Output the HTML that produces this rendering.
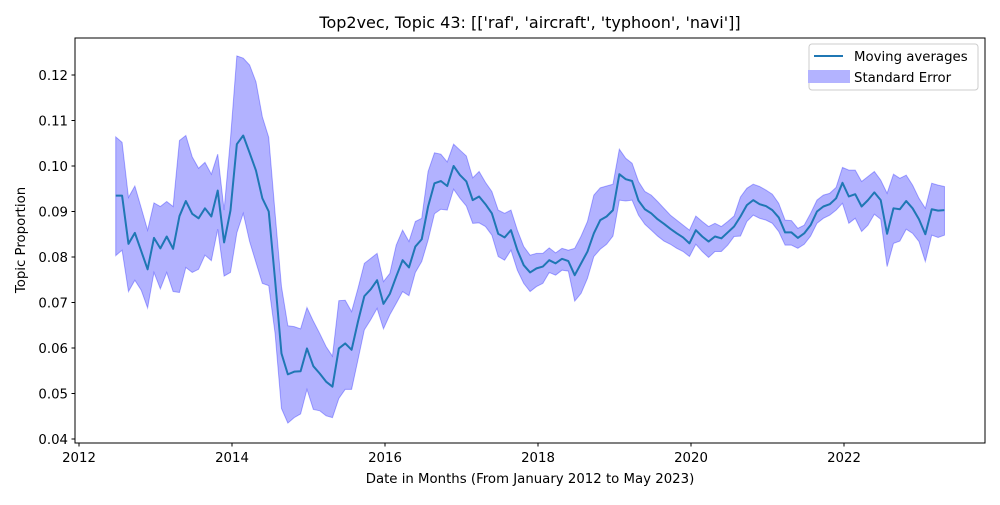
<!DOCTYPE html>
<html><head><meta charset="utf-8"><style>
body{margin:0;background:#fff}
svg text{font-family:"DejaVu Sans","Liberation Sans",sans-serif;fill:#000}
</style></head><body>
<svg id="chart" width="1000" height="500" xmlns="http://www.w3.org/2000/svg">
<rect width="1000" height="500" fill="#fff"/>
<text x="530" y="28" font-size="16" text-anchor="middle">Top2vec, Topic 43: [['raf', 'aircraft', 'typhoon', 'navi']]</text>
<g id="plot"></g>
<rect x="75" y="38" width="910" height="405" fill="none" stroke="#000" stroke-width="1"/>
<g id="axes"></g>
<text x="530" y="483" font-size="13.3" text-anchor="middle">Date in Months (From January 2012 to May 2023)</text>
<text transform="translate(25,240) rotate(-90)" font-size="13.3" text-anchor="middle">Topic Proportion</text>
<g>
<rect x="809" y="44" width="169" height="46" rx="3" fill="#fff" fill-opacity="0.8" stroke="#ccc"/>
<line x1="814" y1="56" x2="843" y2="56" stroke="#1f77b4" stroke-width="2"/>
<text x="854" y="61" font-size="13.3">Moving averages</text>
<rect x="808" y="70" width="42" height="13" fill="#b3b3ff"/>
<text x="854" y="82" font-size="13.3">Standard Error</text>
</g>
</svg>
<script>
const startYear = 2012.48;
const meanValues = [0.0935,0.0935,0.0829,0.0853,0.0813,0.0773,0.0842,0.0819,0.0845,0.0818,0.0890,0.0923,0.0895,0.0885,0.0907,0.0889,0.0946,0.0832,0.0902,0.1048,0.1067,0.1029,0.0990,0.0929,0.0900,0.0749,0.0588,0.0542,0.0548,0.0549,0.0599,0.0560,0.0544,0.0526,0.0515,0.0599,0.0610,0.0596,0.0658,0.0714,0.0729,0.0749,0.0697,0.0719,0.0757,0.0793,0.0777,0.0823,0.0839,0.0911,0.0962,0.0967,0.0956,0.1000,0.0980,0.0966,0.0925,0.0933,0.0916,0.0896,0.0851,0.0843,0.0859,0.0815,0.0782,0.0766,0.0775,0.0779,0.0793,0.0786,0.0796,0.0791,0.0760,0.0786,0.0812,0.0852,0.0881,0.0889,0.0903,0.0982,0.0971,0.0967,0.0924,0.0905,0.0896,0.0883,0.0873,0.0862,0.0852,0.0843,0.0830,0.0859,0.0845,0.0834,0.0845,0.0841,0.0854,0.0867,0.0889,0.0914,0.0925,0.0916,0.0912,0.0903,0.0887,0.0854,0.0854,0.0842,0.0852,0.0870,0.0900,0.0911,0.0916,0.0929,0.0963,0.0933,0.0938,0.0911,0.0925,0.0942,0.0925,0.0851,0.0907,0.0905,0.0923,0.0907,0.0883,0.0850,0.0905,0.0902,0.0903];
const upperValues = [0.1064,0.1052,0.0931,0.0956,0.0908,0.0859,0.0919,0.0911,0.0922,0.0911,0.1056,0.1067,0.1020,0.0995,0.1008,0.0982,0.1026,0.0903,0.1060,0.1242,0.1237,0.1222,0.1185,0.1108,0.1063,0.0896,0.0735,0.0649,0.0647,0.0642,0.0689,0.0659,0.0632,0.0603,0.0582,0.0704,0.0705,0.0680,0.0731,0.0786,0.0797,0.0808,0.0746,0.0764,0.0826,0.0859,0.0834,0.0878,0.0885,0.0988,0.1029,0.1026,0.1009,0.1048,0.1035,0.1022,0.0974,0.0988,0.0964,0.0944,0.0903,0.0896,0.0903,0.0859,0.0823,0.0804,0.0808,0.0808,0.0820,0.0809,0.0819,0.0815,0.0819,0.0846,0.0878,0.0936,0.0952,0.0956,0.0960,0.1037,0.1017,0.1006,0.0966,0.0944,0.0936,0.0922,0.0907,0.0892,0.0881,0.0870,0.0859,0.0890,0.0878,0.0867,0.0874,0.0867,0.0878,0.0890,0.0932,0.0951,0.0960,0.0955,0.0947,0.0938,0.0918,0.0881,0.0880,0.0863,0.0870,0.0896,0.0925,0.0936,0.0940,0.0953,0.0997,0.0991,0.0991,0.0966,0.0977,0.0988,0.0969,0.0940,0.0982,0.0973,0.0980,0.0958,0.0929,0.0907,0.0962,0.0958,0.0955];
const lowerValues = [0.0803,0.0815,0.0724,0.0749,0.0727,0.0688,0.0766,0.0730,0.0766,0.0724,0.0722,0.0777,0.0766,0.0773,0.0804,0.0792,0.0861,0.0758,0.0766,0.0853,0.0896,0.0834,0.0788,0.0742,0.0737,0.0632,0.0467,0.0435,0.0447,0.0455,0.0509,0.0465,0.0462,0.0451,0.0447,0.0489,0.0509,0.0509,0.0574,0.0640,0.0662,0.0687,0.0642,0.0673,0.0698,0.0724,0.0715,0.0766,0.0790,0.0837,0.0895,0.0905,0.0903,0.0949,0.0929,0.0912,0.0874,0.0875,0.0867,0.0848,0.0801,0.0793,0.0815,0.0771,0.0742,0.0724,0.0735,0.0742,0.0766,0.0760,0.0771,0.0769,0.0703,0.0720,0.0753,0.0801,0.0817,0.0828,0.0846,0.0925,0.0923,0.0925,0.0892,0.0872,0.0859,0.0846,0.0835,0.0828,0.0819,0.0812,0.0801,0.0828,0.0812,0.0799,0.0812,0.0812,0.0826,0.0845,0.0846,0.0878,0.0892,0.0885,0.0881,0.0874,0.0856,0.0826,0.0826,0.0819,0.0828,0.0846,0.0874,0.0885,0.0892,0.0903,0.0918,0.0874,0.0885,0.0856,0.0870,0.0894,0.0883,0.0779,0.0830,0.0835,0.0861,0.0852,0.0834,0.0790,0.0848,0.0843,0.0848];
const xTickValues = [2012,2014,2016,2018,2020,2022];
const yTickValues = [0.04,0.05,0.06,0.07,0.08,0.09,0.10,0.11,0.12];
const yTickLabels = ["0.04","0.05","0.06","0.07","0.08","0.09","0.10","0.11","0.12"];

const NS = "http://www.w3.org/2000/svg";
function xScale(t){ return 79 + (t - 2012) * 76.5; }
function yScale(v){ return 439 - (v - 0.04) * 4550; }
function dateAt(i){ return startYear + i / 12; }

const plot = document.getElementById('plot');
let up = '', lo = '';
for (let i = 0; i < meanValues.length; i++) {
  up += (i ? 'L' : 'M') + xScale(dateAt(i)).toFixed(2) + ',' + yScale(upperValues[i]).toFixed(2);
}
for (let i = meanValues.length - 1; i >= 0; i--) {
  lo += 'L' + xScale(dateAt(i)).toFixed(2) + ',' + yScale(lowerValues[i]).toFixed(2);
}
const band = document.createElementNS(NS, 'path');
band.setAttribute('d', up + lo + 'Z');
band.setAttribute('fill', 'rgba(0,0,255,0.3)');
band.setAttribute('stroke', 'rgba(0,0,255,0.3)');
band.setAttribute('stroke-width', '1');


plot.appendChild(band);

let md = '';
for (let i = 0; i < meanValues.length; i++) {
  md += (i ? 'L' : 'M') + xScale(dateAt(i)).toFixed(2) + ',' + yScale(meanValues[i]).toFixed(2);
}
const line = document.createElementNS(NS, 'path');
line.setAttribute('d', md);
line.setAttribute('fill', 'none');
line.setAttribute('stroke', '#1f77b4');
line.setAttribute('stroke-width', '2');
line.setAttribute('stroke-linejoin', 'round');


plot.appendChild(line);

const axes = document.getElementById('axes');
xTickValues.forEach(function(t){
  const x = xScale(t);
  const tk = document.createElementNS(NS, 'line');
  tk.setAttribute('x1', x); tk.setAttribute('x2', x);
  tk.setAttribute('y1', 443); tk.setAttribute('y2', 446.5);
  tk.setAttribute('stroke', '#000');
  
  
  axes.appendChild(tk);
  const tx = document.createElementNS(NS, 'text');
  tx.setAttribute('x', x); tx.setAttribute('y', 462);
  tx.setAttribute('font-size', '13.3');
  tx.setAttribute('text-anchor', 'middle');
  
  
  tx.textContent = String(t);
  axes.appendChild(tx);
});
yTickValues.forEach(function(v, i){
  const y = yScale(v);
  const tk = document.createElementNS(NS, 'line');
  tk.setAttribute('x1', 71.5); tk.setAttribute('x2', 75);
  tk.setAttribute('y1', y); tk.setAttribute('y2', y);
  tk.setAttribute('stroke', '#000');
  
  
  axes.appendChild(tk);
  const tx = document.createElementNS(NS, 'text');
  tx.setAttribute('x', 68); tx.setAttribute('y', y + 5);
  tx.setAttribute('font-size', '13.3');
  tx.setAttribute('text-anchor', 'end');
  
  
  tx.textContent = yTickLabels[i];
  axes.appendChild(tx);
});
</script>
</body></html>
